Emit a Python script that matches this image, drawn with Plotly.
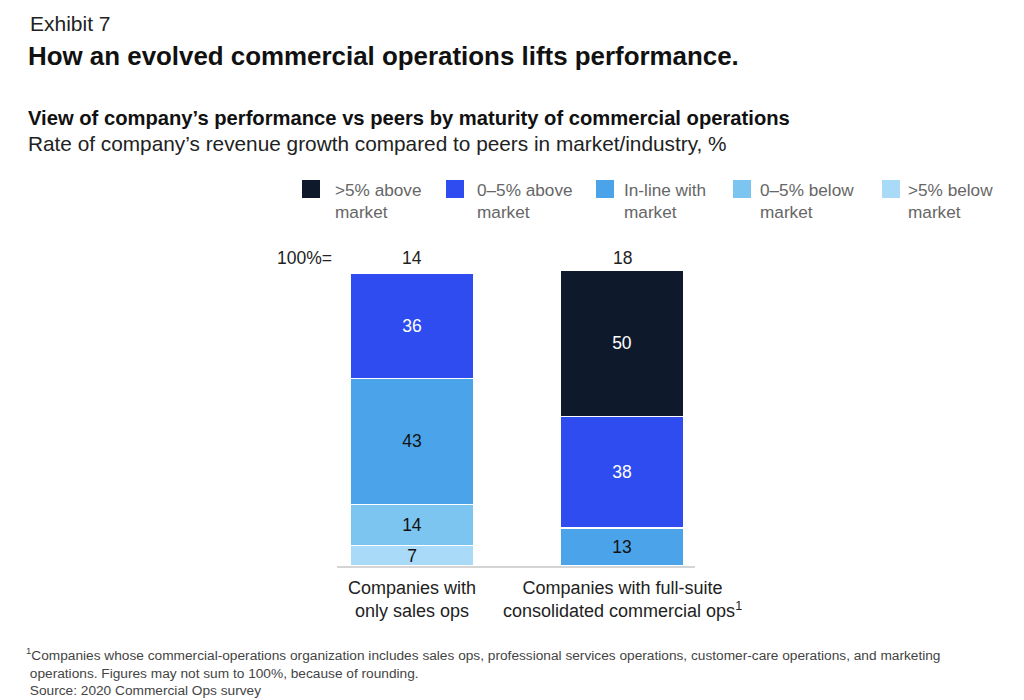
import plotly.graph_objects as go

categories = ["Companies with<br>only sales ops",
              "Companies with full-suite<br>consolidated commercial ops<sup>1</sup>"]
totals = [14, 18]
series_names = [">5% below<br>market", "0\u20135% below<br>market", "In-line with<br>market",
                "0\u20135% above<br>market", ">5% above<br>market"]
below_gt5 = [7, None]
below_0_5 = [14, None]
inline = [43, 13]
above_0_5 = [36, 38]
above_gt5 = [None, 50]
colors = ["#A9DAF7", "#7DC5F1", "#4BA3EA", "#2E4CF0", "#0E1A2B"]
text_colors = ["#111111", "#111111", "#111111", "#FFFFFF", "#FFFFFF"]

series_values = [below_gt5, below_0_5, inline, above_0_5, above_gt5]

W, H = 1024, 700
L, R, T, B = 337, 329, 270, 134
pw = W - L - R
ph = H - T - B


def px(x):
    return (x - L) / pw


def py(y):
    return (H - B - y) / ph


FONT = "Liberation Sans"
fig = go.Figure()
xs = [0, 1]
for name, vals, col, tc in zip(series_names, series_values, colors, text_colors):
    bx = [x for x, v in zip(xs, vals) if v is not None]
    by = [v for v in vals if v is not None]
    fig.add_trace(go.Bar(
        x=bx, y=by, name=name.replace("<br>", " "),
        marker=dict(color=col, line=dict(color="white", width=1.5)),
        width=0.59,
        text=[str(v) for v in by],
        textposition="inside", insidetextanchor="middle", textangle=0,
        constraintext="none",
        textfont=dict(color=tc, size=17.5, family=FONT),
        hoverinfo="skip",
    ))

ann = []
# titles
ann.append(dict(text="Exhibit 7", x=px(28), y=py(23), font=dict(size=21, color="#222", family=FONT, weight=300),
                xanchor="left", yanchor="middle"))
ann.append(dict(text="<b>How an evolved commercial operations lifts performance.</b>", x=px(26), y=py(56),
                font=dict(size=25.9, color="#111", family=FONT), xanchor="left", yanchor="middle"))
ann.append(dict(text="<b>View of company\u2019s performance vs peers by maturity of commercial operations</b>",
                x=px(26), y=py(118), font=dict(size=20.2, color="#111", family=FONT),
                xanchor="left", yanchor="middle"))
ann.append(dict(text="Rate of company\u2019s revenue growth compared to peers in market/industry, %",
                x=px(26), y=py(143), font=dict(size=20.8, color="#222", family=FONT),
                xanchor="left", yanchor="middle"))

# legend (top series first)
leg_sq_x = [302, 446, 596, 733, 882]
leg_txt_x = [333, 475, 622, 758, 906]
shapes = []
for i, (name, col) in enumerate(zip(series_names[::-1], colors[::-1])):
    shapes.append(dict(type="rect", xref="paper", yref="paper",
                       x0=px(leg_sq_x[i]), x1=px(leg_sq_x[i] + 18),
                       y0=py(180), y1=py(198), fillcolor=col, line=dict(width=0)))
    ann.append(dict(text=name, x=px(leg_txt_x[i]), y=py(178), xanchor="left", yanchor="top",
                    align="left", font=dict(size=17.2, color="#666", family=FONT)))

# 100%= and totals
ann.append(dict(text="100%=", x=px(334), y=py(258), xanchor="right", yanchor="middle",
                font=dict(size=17.5, color="#222", family=FONT)))
for xv, t in zip(xs, totals):
    ann.append(dict(text=str(t), x=xv, xref="x", y=py(258), xanchor="center", yanchor="middle",
                    font=dict(size=17.5, color="#222", family=FONT)))

# category labels
for xv, c in zip(xs, categories):
    ann.append(dict(text=c, x=xv, xref="x", y=py(576), xanchor="center", yanchor="top",
                    font=dict(size=18, color="#222", family=FONT)))

# footnote
ann.append(dict(text="<sup>1</sup>Companies whose commercial-operations organization includes sales ops, professional services operations, customer-care operations, and marketing<br> operations. Figures may not sum to 100%, because of rounding.<br> Source: 2020 Commercial Ops survey",
                x=px(24), y=py(643), xanchor="left", yanchor="top", align="left",
                font=dict(size=13.7, color="#444", family=FONT)))

for a in ann:
    a.setdefault("xref", "paper")
    a.setdefault("yref", "paper")
    a["showarrow"] = False

unit = 210.0
xr = [-(412 - L) / unit, 1 + (W - R - 622) / unit]
fig.update_layout(
    width=W, height=H, margin=dict(l=L, r=R, t=T, b=B, pad=0),
    barmode="stack", showlegend=False,
    plot_bgcolor="white", paper_bgcolor="white",
    xaxis=dict(range=xr, showticklabels=False, showgrid=False, zeroline=False,
               showline=True, linecolor="#D5D5D5", linewidth=1.5, fixedrange=True),
    yaxis=dict(range=[0, 101], visible=False, fixedrange=True),
    annotations=ann, shapes=shapes,
    font=dict(family=FONT),
)
fig.write_html("out.html", config={"displayModeBar": False},
               post_script="document.body.style.margin='0';document.body.style.overflow='hidden';")
